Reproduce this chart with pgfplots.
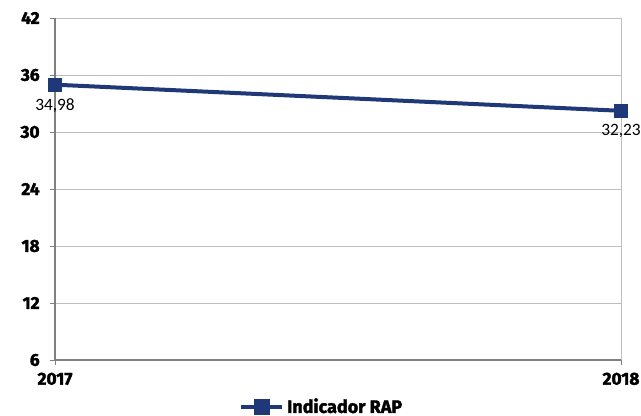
\documentclass[border=0pt]{standalone}
\usepackage{fontspec}
\setmainfont{Fira Sans}[BoldFeatures={FakeBold=2}]
\newfontfamily\lblfont{Carlito}
\usepackage{pgfplots}
\pgfplotsset{compat=1.18}
\definecolor{navy}{RGB}{31,56,120}
\definecolor{gridc}{RGB}{190,190,190}
\definecolor{axc}{RGB}{128,128,128}
\begin{document}
\begin{tikzpicture}
\begin{axis}[
  name=ax,
  at={(0,0)}, anchor=south west,
  scale only axis,
  width=424.5pt, height=256.5pt,
  xmin=0, xmax=1, ymin=6, ymax=42,
  xtick={0,1}, xticklabels={2017,2018},
  ytick={6,12,18,24,30,36,42},
  yticklabels={6,12,18,24,30,36,42},
  ymajorgrids, xmajorgrids,
  major grid style={gridc, line width=0.6pt},
  axis line style={axc, line width=0.9pt},
  axis x line*=bottom, axis y line*=left,
  tick style={axc, line width=0.6pt},
  major tick length=4pt,
  tick align=outside,
  ticklabel style={font=\bfseries\fontsize{13}{13}\selectfont},
  /pgf/number format/assume math mode=true,
  yticklabel style={xshift=-4pt},
  xticklabel style={yshift=-2pt},
  legend style={at={(0.5,0)}, anchor=center, xshift=-12pt, yshift=-35pt, draw=none, fill=none,
    font=\bfseries\fontsize{13.5}{13.5}\selectfont, inner sep=0pt},
  legend image code/.code={
    \draw[navy, line width=3pt] (0pt,0pt) -- (31pt,0pt);
    \fill[navy] (11pt,-4.5pt) rectangle (20pt,4.5pt);
  },
  clip=false,
]
\addplot[navy, line width=3pt, mark=square*, mark size=5pt, mark options={line width=0.5pt},
  nodes near coords, point meta=explicit symbolic,
  every node near coord/.append style={font=\lblfont\fontsize{13}{13}\selectfont, text=black, anchor=north, yshift=-9pt, inner sep=1pt}]
  coordinates {(0,34.98) [34,98] (1,32.23) [32,23]};
\addlegendentry{Indicador RAP}
\end{axis}
\pgfresetboundingbox
\path ([xshift=-41.25pt,yshift=-42pt]ax.south west) rectangle ([xshift=15pt,yshift=13.5pt]ax.north east);
\end{tikzpicture}
\end{document}
